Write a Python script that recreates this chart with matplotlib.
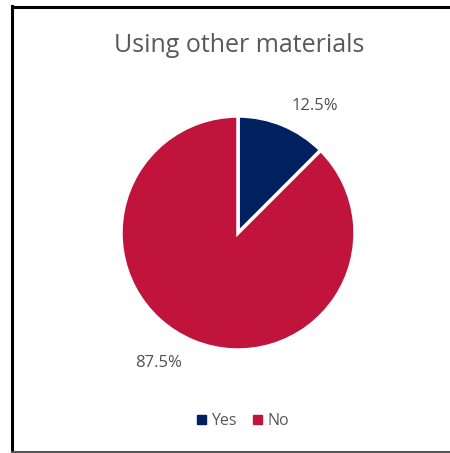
import matplotlib
matplotlib.use("Agg")
import matplotlib.pyplot as plt
from matplotlib.patches import Rectangle
from matplotlib.lines import Line2D

plt.rcParams['font.family'] = ['Open Sans', 'DejaVu Sans']

title = "Using other materials"
categories = ["Yes", "No"]
values = [12.5, 87.5]
colors = ["#002060", "#C0143C"]

W, H = 450, 453
fig = plt.figure(figsize=(W / 100, H / 100), dpi=100)
fig.patch.set_facecolor("white")

# chart frame
frame = fig.add_axes([0, 0, 1, 1])
frame.set_xlim(0, W)
frame.set_ylim(H, 0)
frame.axis("off")
frame.add_line(Line2D([12, 12], [6, 452], color="black", lw=2.2))
frame.add_line(Line2D([12, 450], [7, 7], color="black", lw=2.2))
frame.add_line(Line2D([12, 450], [452, 452], color="#555555", lw=1.5))

fig.text(239 / W, 1 - 46 / H, title, ha="center", va="center",
         fontsize=18, color="#595959")

# pie
cx, cy, r = 238, 233, 117
ax = fig.add_axes([(cx - r) / W, 1 - (cy + r) / H, 2 * r / W, 2 * r / H])
wedges, _ = ax.pie(values, colors=colors, startangle=90, counterclock=False,
                   wedgeprops=dict(edgecolor="white", linewidth=2.5))
ax.set_xlim(-1, 1)
ax.set_ylim(-1, 1)
ax.set_aspect("equal")

label_pos = [(315, 106), (159, 363)]
for v, (x, y) in zip(values, label_pos):
    fig.text(x / W, 1 - y / H, f"{v}%", ha="center", va="center",
             fontsize=12, color="#505050")

handles = [Rectangle((0, 0), 1, 1, color=c) for c in colors]
fig.legend(handles, categories, loc="center", bbox_to_anchor=(243 / W, 1 - 421 / H),
           ncol=2, frameon=False, fontsize=11.5, labelcolor="#595959",
           handlelength=0.55, handleheight=0.55, handletextpad=0.35, columnspacing=1.0)

fig.savefig("out.png", dpi=100, facecolor="white")
